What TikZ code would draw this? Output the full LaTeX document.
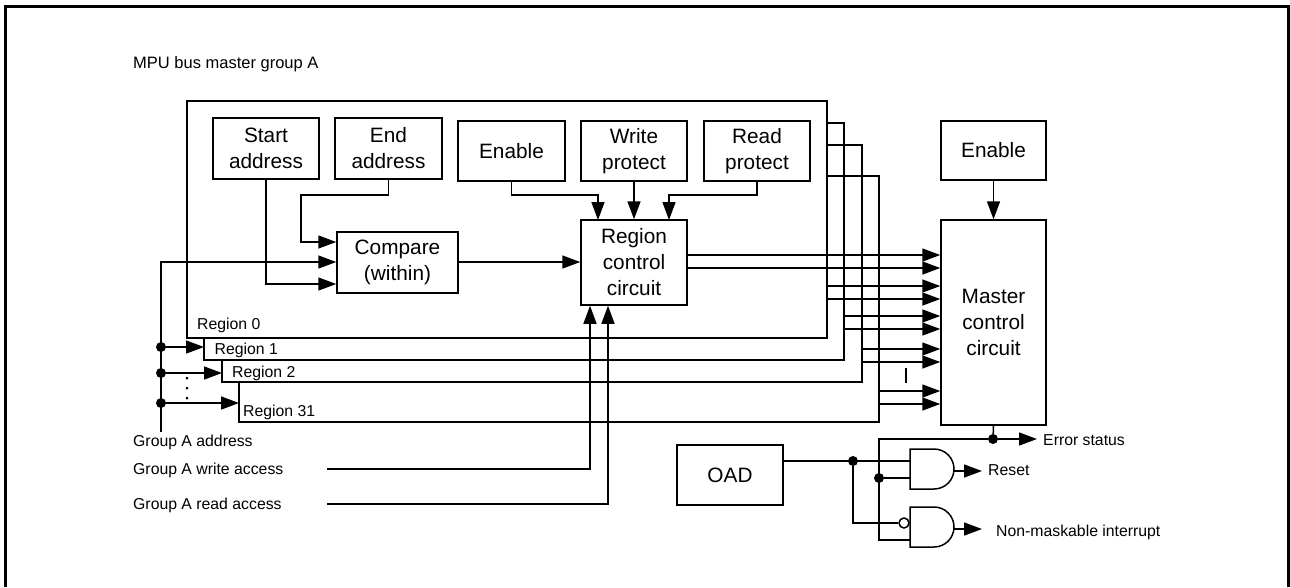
\documentclass[tikz,border=0pt]{standalone}
\usepackage{fontspec}
\setmainfont{Liberation Sans}
\usetikzlibrary{arrows.meta}
\tikzset{
    block/.style={draw, line width=1.5pt, fill=white, align=center, inner sep=0pt, font=\fontsize{20.8}{26}\selectfont},
    smalltext/.style={anchor=west, inner sep=0pt, font=\fontsize{15.8}{19}\selectfont},
    wire/.style={line width=1.5pt},
    arrow/.style={wire, -{Triangle[length=18pt,width=13pt]}},
    junction/.style={circle, fill=black, inner sep=0pt, minimum size=10pt},
}
\begin{document}
\begin{tikzpicture}[x=1pt, y=-1pt]
    % Frame
    \useasboundingbox (0,0) rectangle (1290,587);
    \draw[line width=3pt] (5.5,587) -- (5.5,6.5) -- (1288.5,6.5) -- (1288.5,587);
    \node[smalltext, font=\fontsize{16.5}{20}\selectfont] (title) at (133,64.5) {MPU bus master group A};

    % Region 31, 2 and 1 (back)
    \draw[wire] (827,176) -- (879,176) -- (879,422) -- (239,422) -- (239,382);
    \draw[wire] (827,145) -- (862,145) -- (862,382) -- (222,382) -- (222,360);
    \draw[wire] (827,123) -- (844,123) -- (844,360) -- (204,360) -- (204,338);
    % Region 0 (front)
    \draw[wire] (187,101) rectangle (827,338);
    \node[smalltext] (reg0) at (197,325) {Region 0};
    \node[smalltext] (reg1) at (214.5,350.5) {Region 1};
    \node[smalltext] (reg2) at (232,373) {Region 2};
    \node[smalltext] (reg31) at (243,412) {Region 31};

    % Blocks
    \node[block, minimum width=106pt, minimum height=61pt] (start) at (266,148.5) {Start\\address};
    \node[block, minimum width=107pt, minimum height=61pt] (end) at (388.5,148.5) {End\\address};
    \node[block, minimum width=107pt, minimum height=60pt] (enable) at (511.5,151) {Enable};
    \node[block, minimum width=106pt, minimum height=60pt] (write) at (634,151) {Write\\protect};
    \node[block, minimum width=106pt, minimum height=60pt] (read) at (757,151) {Read\\protect};
    \node[block, minimum width=121pt, minimum height=61pt] (compare) at (397.5,262.5) {Compare\\(within)};
    \node[block, minimum width=106pt, minimum height=85pt] (region) at (634,262.5) {Region\\control\\circuit};
    \node[block, minimum width=105pt, minimum height=59pt] (enableb) at (993.5,150.5) {Enable};
    \node[block, minimum width=105pt, minimum height=205pt] (master) at (993.5,322.5) {Master\\control\\circuit};
    \node[block, minimum width=106pt, minimum height=60pt] (oad) at (730,475) {OAD};

    % Inside region 0
    \draw[arrow] (start.south) |- (compare.west |- 0,284);
    \draw[arrow] (end.south) -- (388.5,195) -- (301,195) |- (compare.west |- 0,242);
    \draw[arrow] (compare.east |- 0,262) -- (region.west |- 0,262);
    \draw[arrow] (enable.south) -- (511.5,195) -| (598,220);
    \draw[arrow] (write) -- (region.north);
    \draw[arrow] (read.south) -- (757,195) -| (669,220);
    \draw[arrow] (enableb) -- (master);

    % Address bus
    \coordinate (addr) at (161,432);
    \draw[arrow] (addr) |- (compare.west |- 0,262);
    \foreach \y/\x/\name in {347/204/a, 373/222/b, 403/239/c} {
        \node[junction] (\name) at (161,\y) {};
        \draw[arrow] (\name) -- (\x,\y);
    }
    \foreach \y in {378,388,398} \fill (187,\y) circle (1.5pt);

    % Access lines
    \node[smalltext] (addrl) at (133,442) {Group A address};
    \node[smalltext] (writel) at (133,470) {Group A write access};
    \node[smalltext] (readl) at (133,505) {Group A read access};
    \coordinate (wstart) at (327,469);
    \coordinate (rstart) at (327,504);
    \draw[arrow] (wstart) -| (region.south -| 590,0);
    \draw[arrow] (rstart) -| (region.south -| 608,0);

    % Outputs to master
    \foreach \x/\ya/\yb in {687/255/268, 827/286/299, 844/316/329, 862/349/362, 879/391/404} {
        \draw[arrow] (\x,\ya) -- (master.west |- 0,\ya);
        \draw[arrow] (\x,\yb) -- (master.west |- 0,\yb);
    }
    \draw[line width=2pt] (906,368) -- (906,383);

    % Error status
    \node[junction] (err) at (993,439) {};
    \draw[wire] (master.south) -- (err);
    \node[smalltext] (errl) at (1043,440.5) {Error status};
    \coordinate (errend) at (1037,439);
    \draw[arrow] (err) -- (errend);
    \draw[wire] (err) -- (879,439) -- (879,540) -- (910,540);
    \node[junction] (en) at (879,478) {};
    \draw[wire] (en) -- (910,478);

    % Gates
    \foreach \name/\y/\o in {and1/449/471, and2/507/529} {
        \draw[wire, fill=white] (910,\y) -- (934,\y) arc[start angle=-90, end angle=90, y radius=-20pt, x radius=20pt] -- (910,\y+40) -- cycle;
        \coordinate (\name) at (954,\o);
    }
    \node[smalltext] (resetl) at (988,470) {Reset};
    \node[smalltext] (nmil) at (996,532) {Non-maskable interrupt};
    \draw[arrow] (and1) -- (982,471);
    \draw[arrow] (and2) -- (982,529);

    % OAD
    \node[junction] (oj) at (853,461) {};
    \draw[wire] (oad.east |- oj) -- (910,461);
    \node[circle, draw, line width=1.5pt, fill=white, minimum size=10pt, inner sep=0pt] (inv) at (904,523) {};
    \draw[wire] (oj) |- (inv);
\end{tikzpicture}
\end{document}
